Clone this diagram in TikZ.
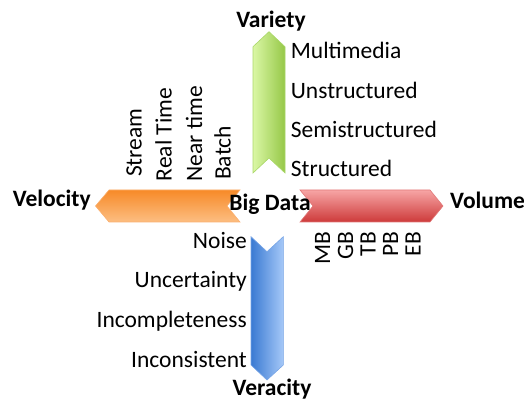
\documentclass[tikz,border=0pt]{standalone}
\usepackage{fontspec}
\setmainfont{Carlito}
\definecolor{gL}{RGB}{218,247,165}
\definecolor{gR}{RGB}{150,200,72}
\definecolor{gE}{RGB}{170,215,105}
\definecolor{oT}{RGB}{247,138,40}
\definecolor{oB}{RGB}{252,190,130}
\definecolor{oE}{RGB}{250,175,110}
\definecolor{rT}{RGB}{247,165,165}
\definecolor{rB}{RGB}{205,58,58}
\definecolor{rE}{RGB}{225,120,120}
\definecolor{bL}{RGB}{58,122,210}
\definecolor{bR}{RGB}{165,200,248}
\definecolor{bE}{RGB}{120,165,230}
\begin{document}
\begin{tikzpicture}[x=1pt,y=-1pt,
  lab/.style={font=\fontsize{23.5}{27}\selectfont, inner sep=0pt, text=black},
  blab/.style={inner sep=0pt, text=black, font=\fontsize{23.5}{27}\selectfont\bfseries},
  arr/.style={line width=0.6pt, line join=miter}
]
\useasboundingbox (0,0) rectangle (524,403);
% Variety arrow (up)
\shade[arr, left color=gL, right color=gR, draw=gE]
  (253,173) -- (253,46.7) -- (269,31.7) -- (285,46.7) -- (285,173) -- (269,158) -- cycle;
% Velocity arrow (left)
\shade[arr, top color=oT, bottom color=oB, draw=oE]
  (240,190) -- (109,190) -- (95.5,206) -- (109,222) -- (240,222) -- (227,206) -- cycle;
% Volume arrow (right)
\shade[arr, top color=rT, bottom color=rB, draw=rE]
  (300,190) -- (430,190) -- (443,206) -- (430,222) -- (300,222) -- (313,206) -- cycle;
% Veracity arrow (down)
\shade[arr, left color=bL, right color=bR, draw=bE]
  (251,236.7) -- (267,251.7) -- (283.3,236.7) -- (283.3,365) -- (267,380) -- (251,365) -- cycle;

% main labels
\node[blab, anchor=base] (big) at (270,211) {Big Data};
\node[blab, anchor=base] (variety) at (271,28) {Variety};
\node[blab, anchor=base west] (velocity) at (12.7,207) {Velocity};
\node[blab, anchor=base west] (volume) at (450,209) {Volume};
\node[blab, anchor=base] (veracity) at (272,395) {Veracity};

% variety items
\node[lab, anchor=base west] (v1) at (290.7,59) {Multimedia};
\node[lab, anchor=base west] (v2) at (290.7,98.5) {Unstructured};
\node[lab, anchor=base west] (v3) at (290.7,138) {Semistructured};
\node[lab, anchor=base west] (v4) at (290.7,177) {Structured};

% veracity items
\node[lab, anchor=base east] (r1) at (247,248) {Noise};
\node[lab, anchor=base east] (r2) at (247,287) {Uncertainty};
\node[lab, anchor=base east] (r3) at (247,327) {Incompleteness};
\node[lab, anchor=base east] (r4) at (247,367) {Inconsistent};

% velocity items (rotated)
\node[lab, rotate=90, anchor=base west] (s1) at (141.7,177) {Stream};
\node[lab, rotate=90, anchor=base west] (s2) at (171.7,181.5) {Real Time};
\node[lab, rotate=90, anchor=base west] (s3) at (202,181.5) {Near time};
\node[lab, rotate=90, anchor=base west] (s4) at (230.5,180) {Batch};

% volume items (rotated)
\node[lab, rotate=90, anchor=base east] (m1) at (330,231.7) {MB};
\node[lab, rotate=90, anchor=base east] (m2) at (353,231.7) {GB};
\node[lab, rotate=90, anchor=base east] (m3) at (375.5,231.7) {TB};
\node[lab, rotate=90, anchor=base east] (m4) at (398,231.7) {PB};
\node[lab, rotate=90, anchor=base east] (m5) at (420.5,231.7) {EB};
\end{tikzpicture}
\end{document}
